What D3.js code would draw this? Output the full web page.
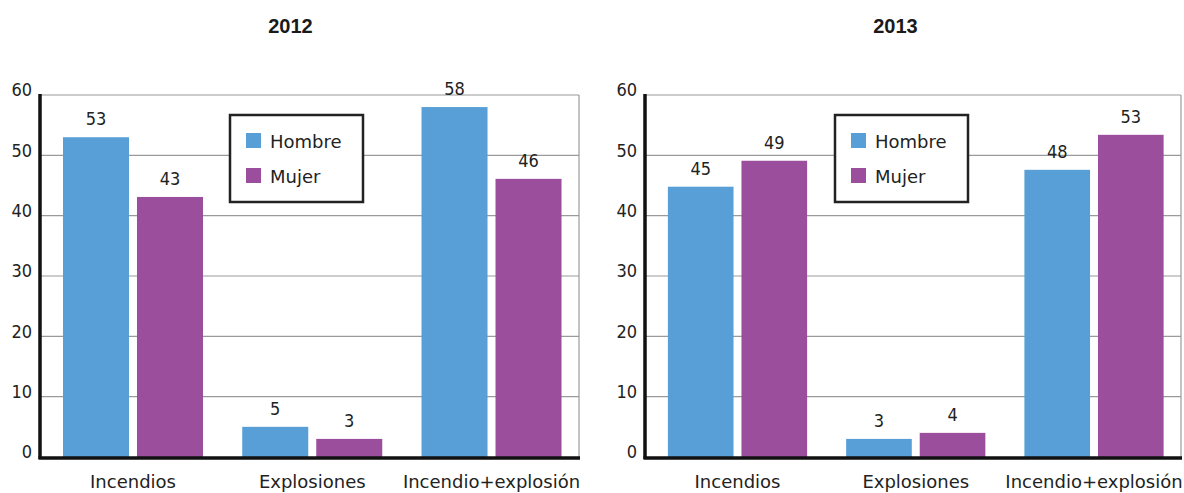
<!DOCTYPE html>
<html><head><meta charset="utf-8">
<script src="https://cdn.jsdelivr.net/npm/d3@7"></script>
<style>body{margin:0;background:#fff}svg{display:block}</style>
</head><body>
<script>
const categories = ["Incendios", "Explosiones", "Incendio+explosión"];
const series = ["Hombre", "Mujer"];
const years = ["2012", "2013"];
const hombre2012 = [53.0, 5.0, 58.0];
const mujer2012 = [43.1, 3.0, 46.1];
const hombre2013 = [44.8, 3.0, 47.6];
const mujer2013 = [49.1, 4.0, 53.4];
const yTicks = [0, 10, 20, 30, 40, 50, 60];
const colors = ["#579fd6", "#9a4e9b"];

const W = 1184, H = 493;
const svg = d3.select("body").append("svg").attr("width", W).attr("height", H);
const textFont = "'DejaVu Sans', sans-serif";
const numFont = "'DejaVu Sans Condensed', 'DejaVu Sans', sans-serif";

const panels = [
  {year: years[0], data: [hombre2012, mujer2012], x0: 40, x1: 579},
  {year: years[1], data: [hombre2013, mujer2013], x0: 645, x1: 1181}
];
const y = d3.scaleLinear().domain([0, 60]).range([457, 95]);

panels.forEach(p => {
  const g = svg.append("g");
  const x = d3.scaleBand().domain(categories).range([p.x0 + 5.5, p.x1]).paddingInner(0.219).paddingOuter(0.0975);
  const xs = d3.scaleBand().domain(series).range([0, x.bandwidth()]).paddingInner(0.108);

  g.append("text").attr("x", p.x0 + 250.5).attr("y", 33)
    .attr("text-anchor", "middle").attr("font-family", "'Liberation Sans', Arial, sans-serif")
    .attr("font-weight", "bold").attr("font-size", 20).attr("fill", "#1a1a1a").text(p.year);

  // gridlines
  g.selectAll("line.grid").data(yTicks.slice(1)).join("line")
    .attr("x1", p.x0).attr("x2", p.x1).attr("y1", d => y(d)).attr("y2", d => y(d))
    .attr("stroke", "#9a9a9a").attr("stroke-width", 1.2);
  g.append("line").attr("x1", p.x1).attr("x2", p.x1).attr("y1", y(60)).attr("y2", y(0))
    .attr("stroke", "#9a9a9a").attr("stroke-width", 1.2);

  // bars
  series.forEach((s, si) => {
    g.selectAll("rect.s" + si).data(categories).join("rect")
      .attr("x", c => x(c) + xs(s)).attr("width", xs.bandwidth())
      .attr("y", (c, i) => y(p.data[si][i])).attr("height", (c, i) => y(0) - y(p.data[si][i]))
      .attr("fill", colors[si]);
    g.selectAll("text.v" + si).data(categories).join("text")
      .attr("x", c => x(c) + xs(s) + xs.bandwidth() / 2)
      .attr("y", (c, i) => y(p.data[si][i]) - 12)
      .attr("text-anchor", "middle").attr("font-family", numFont).attr("font-size", 18).attr("fill", "#222")
      .text((c, i) => d3.format(".0f")(p.data[si][i]));
  });

  // y axis
  const ya = d3.axisLeft(y).tickValues(yTicks).tickSize(0).tickPadding(8);
  const ag = g.append("g").attr("transform", `translate(${p.x0},0)`).call(ya);
  ag.select(".domain").remove();
  ag.selectAll("text").attr("font-family", numFont).attr("font-size", 18).attr("fill", "#222").attr("dy", "0.05em");
  g.append("line").attr("x1", p.x0).attr("x2", p.x0).attr("y1", y(60) - 1).attr("y2", y(0) + 2)
    .attr("stroke", "#111").attr("stroke-width", 3.5);
  g.append("line").attr("x1", p.x0 - 1.5).attr("x2", p.x1 + 1).attr("y1", y(0) + 1).attr("y2", y(0) + 1)
    .attr("stroke", "#111").attr("stroke-width", 3.5);

  // x axis labels
  const xa = d3.axisBottom(x).tickSize(0).tickPadding(18);
  const xg = g.append("g").attr("transform", `translate(0,${y(0)})`).call(xa);
  xg.select(".domain").remove();
  xg.selectAll("text").attr("font-family", textFont).attr("font-size", 18).attr("fill", "#222");

  // legend
  const lg = g.append("g").attr("transform", `translate(${p.x0 + 190},115)`);
  lg.append("rect").attr("x", 0).attr("y", 0).attr("width", 133).attr("height", 87)
    .attr("fill", "#fff").attr("stroke", "#222").attr("stroke-width", 2.5);
  series.forEach((s, si) => {
    lg.append("rect").attr("x", 16).attr("y", 18 + si * 35).attr("width", 15).attr("height", 15).attr("fill", colors[si]);
    lg.append("text").attr("x", 40).attr("y", 33 + si * 35).attr("font-family", textFont)
      .attr("font-size", 18).attr("fill", "#222").text(s);
  });
});
</script>
</body></html>
